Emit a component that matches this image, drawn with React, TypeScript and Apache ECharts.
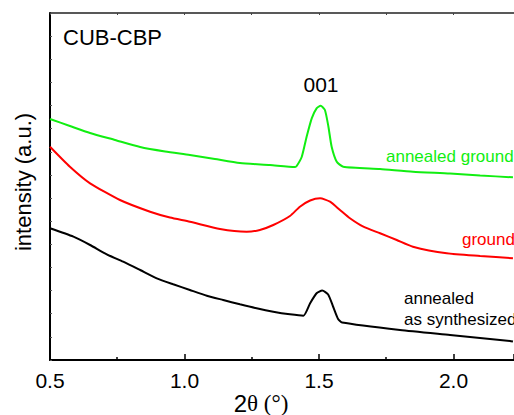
import React, { useEffect, useRef } from "react";
import * as echarts from "echarts";

// 2θ positions (degrees) and intensities (a.u.)
const greenX = [0.5, 0.574, 0.649, 0.742, 0.835, 0.928, 1.02, 1.113, 1.206, 1.318, 1.411, 1.417, 1.436, 1.454, 1.473, 1.491, 1.506, 1.522, 1.535, 1.547, 1.566, 1.59, 1.727, 1.849, 1.987, 2.099, 2.221];
const greenY = [241, 234, 227, 220, 213, 208.5, 205, 201, 197, 195, 193, 194, 203.3, 223.3, 241.7, 251.7, 254.3, 250, 233.3, 213.3, 198.3, 193.3, 191, 188.3, 186.5, 184.5, 182.7];

const redX = [0.5, 0.574, 0.649, 0.76, 0.872, 0.946, 1.02, 1.132, 1.231, 1.28, 1.33, 1.392, 1.429, 1.467, 1.504, 1.541, 1.578, 1.615, 1.665, 1.727, 1.789, 1.849, 1.975, 2.099, 2.221];
const redY = [213.3, 193.3, 176.7, 160, 148.3, 142.5, 138.3, 131, 128.3, 130, 135, 144, 153.3, 159.5, 161.7, 158.3, 150, 141.7, 133.3, 126.7, 120, 113.3, 106.7, 104, 101.7];

const blackX = [0.5, 0.587, 0.649, 0.711, 0.772, 0.835, 0.897, 0.958, 1.02, 1.083, 1.144, 1.206, 1.268, 1.33, 1.392, 1.442, 1.467, 1.491, 1.512, 1.534, 1.553, 1.571, 1.586, 1.801, 1.987, 2.21, 2.221];
const blackY = [131.7, 123.3, 115, 105.7, 98.3, 90, 81.7, 75.7, 70, 64.3, 60, 55.7, 51.7, 48.3, 45.7, 44.3, 56.7, 66.7, 69.5, 65.5, 53, 41, 37.5, 30, 25, 19, 18.5];

const xTickLabels = ["0.5", "1.0", "1.5", "2.0"];

const zip = (xs: number[], ys: number[]) => xs.map((x, i) => [x, ys[i]]);

export default function App() {
  const ref = useRef<HTMLDivElement>(null);
  useEffect(() => {
    if (!ref.current) return;
    const chart = echarts.init(ref.current, null, { renderer: "svg" });
    const sans = "Liberation Sans, Arial, sans-serif";
    const serif = "Liberation Serif, Times New Roman, serif";
    const xMax = 0.5 + 464 / 269;
    const lineSeries = (xs: number[], ys: number[], color: string) => ({
      type: "line",
      data: zip(xs, ys),
      showSymbol: false,
      smooth: 0.2,
      lineStyle: { color, width: 2 },
      xAxisIndex: 0,
    });
    chart.setOption({
      animation: false,
      backgroundColor: "#ffffff",
      grid: { left: 50, top: 13, right: 0, bottom: 55, containLabel: false },
      xAxis: [
        {
          type: "value",
          min: 0.5,
          max: xMax,
          interval: 0.5,
          position: "bottom",
          axisLine: { show: true, lineStyle: { color: "#000", width: 2 } },
          axisTick: { show: true, inside: true, length: 6, lineStyle: { color: "#000", width: 1.5 } },
          minorTick: { show: true, splitNumber: 2, length: 3, lineStyle: { color: "#000", width: 1.5 } },
          splitLine: { show: false },
          axisLabel: {
            show: true,
            showMaxLabel: false,
            color: "#000",
            fontFamily: sans,
            fontSize: 21,
            margin: 10,
            formatter: (v: number) => {
              const s = v.toFixed(1);
              return xTickLabels.includes(s) ? s : "";
            },
          },
        },
        {
          type: "value",
          min: 0.5,
          max: xMax,
          interval: 0.25,
          position: "top",
          axisLine: { show: true, lineStyle: { color: "#222", width: 1.5 } },
          axisTick: { show: true, inside: true, length: 2, lineStyle: { color: "#444", width: 1 } },
          axisLabel: { show: false },
          splitLine: { show: false },
        },
      ],
      yAxis: {
        type: "value",
        min: 0,
        max: 347,
        interval: 347 / 15,
        axisLine: { show: true, lineStyle: { color: "#000", width: 2 } },
        axisTick: { show: true, inside: true, length: 2, lineStyle: { color: "#555", width: 1 } },
        axisLabel: { show: false },
        splitLine: { show: false },
      },
      series: [
        lineSeries(greenX, greenY, "#11ee11"),
        lineSeries(redX, redY, "#ff0000"),
        lineSeries(blackX, blackY, "#000000"),
      ],
      graphic: [
        { type: "text", left: 63, top: 26, style: { text: "CUB-CBP", font: `22px ${sans}`, fill: "#000" } },
        { type: "text", x: 321, y: 84, style: { text: "001", font: `21px ${sans}`, fill: "#000", align: "center", verticalAlign: "middle" } },
        { type: "text", x: 386, y: 156, style: { text: "annealed ground", font: `17px ${sans}`, fill: "#11ee11", verticalAlign: "middle" } },
        { type: "text", x: 462, y: 239, style: { text: "ground", font: `17px ${sans}`, fill: "#ff0000", verticalAlign: "middle" } },
        { type: "text", x: 404, y: 298, style: { text: "annealed", font: `17px ${sans}`, fill: "#000", verticalAlign: "middle" } },
        { type: "text", x: 404, y: 319, style: { text: "as synthesized", font: `17px ${sans}`, fill: "#000", verticalAlign: "middle" } },
        {
          type: "text",
          x: 23,
          y: 182,
          rotation: Math.PI / 2,
          style: { text: "intensity (a.u.)", font: `22px ${sans}`, fill: "#000", align: "center", verticalAlign: "middle" },
        },
        {
          type: "text",
          x: 261,
          y: 403,
          style: {
            text: "{a|2}{b|θ (°)}",
            align: "center",
            verticalAlign: "middle",
            rich: {
              a: { fontFamily: sans, fontSize: 24, fill: "#000", color: "#000" },
              b: { fontFamily: serif, fontSize: 23, fill: "#000", color: "#000" },
            },
          },
        },
      ],
    });
    return () => chart.dispose();
  }, []);
  return <div ref={ref} style={{ position: "fixed", left: 0, top: 0, width: 514, height: 415 }} />;
}
